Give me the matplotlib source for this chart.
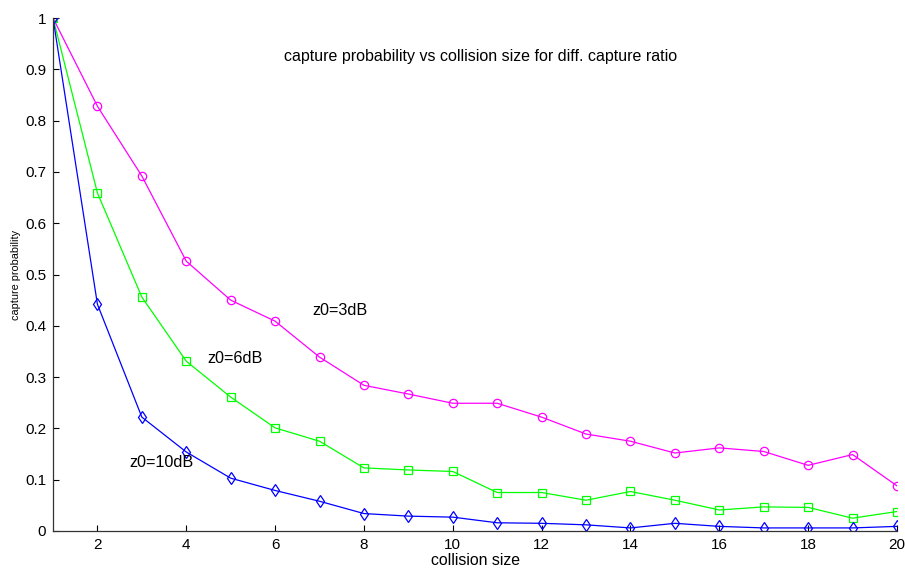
import matplotlib
matplotlib.use("Agg")
import matplotlib.pyplot as plt

collision_size = list(range(1, 21))
p_3dB = [1.0, 0.828, 0.692, 0.526, 0.450, 0.409, 0.339, 0.284, 0.267, 0.249, 0.249,
         0.222, 0.189, 0.175, 0.152, 0.162, 0.155, 0.128, 0.149, 0.088]
p_6dB = [1.0, 0.659, 0.456, 0.331, 0.261, 0.201, 0.175, 0.123, 0.119, 0.116, 0.075,
         0.075, 0.060, 0.077, 0.060, 0.041, 0.047, 0.046, 0.025, 0.038]
p_10dB = [1.0, 0.442, 0.222, 0.154, 0.103, 0.079, 0.058, 0.034, 0.029, 0.027, 0.016,
          0.015, 0.012, 0.006, 0.015, 0.009, 0.006, 0.006, 0.006, 0.009]
xticks = list(range(2, 21, 2))
yticks = [round(0.1 * i, 1) for i in range(11)]
ytick_labels = ["0"] + [f"{v:.1f}" for v in yticks[1:-1]] + ["1"]

plt.rcParams['font.family'] = ['Liberation Sans', 'DejaVu Sans']

fig = plt.figure(figsize=(9.05, 5.70), dpi=100)
ax = fig.add_axes([53/905, 1 - 531/570, (897 - 53)/905, (531 - 18)/570])

lw = 0.9
ax.plot(collision_size, p_3dB, color='#ff00ff', marker='o', mfc='none', ms=6, mew=0.9, lw=lw)
ax.plot(collision_size, p_6dB, color='#00ff00', marker='s', mfc='none', ms=5.5, mew=0.9, lw=lw)
ax.plot(collision_size, p_10dB, color='#0000ff', marker='d', mfc='none', ms=6.5, mew=0.9, lw=lw)

ax.set_xlim(1, 20)
ax.set_ylim(0, 1)
ax.set_xticks(xticks)
ax.set_yticks(yticks)
ax.set_yticklabels(ytick_labels)
ax.tick_params(direction='in', length=4, width=0.8, labelsize=11, colors='black', pad=5)
for s in ['top', 'right']:
    ax.spines[s].set_visible(False)
for s in ['left', 'bottom']:
    ax.spines[s].set_linewidth(0.9)
    ax.spines[s].set_color('#333333')

ax.set_xlabel("collision size", fontsize=11.4, labelpad=1)
ax.set_ylabel("capture probability", fontsize=7.8, labelpad=3)

ax.text(10.63, 0.924, "capture probability vs collision size for diff. capture ratio",
        ha='center', va='center', fontsize=11.5)
ax.text(6.85, 0.429, "z0=3dB", ha='left', va='center', fontsize=11.7)
ax.text(4.47, 0.337, "z0=6dB", ha='left', va='center', fontsize=11.7)
ax.text(2.73, 0.133, "z0=10dB", ha='left', va='center', fontsize=11.7)

fig.savefig("out.png", dpi=100)
